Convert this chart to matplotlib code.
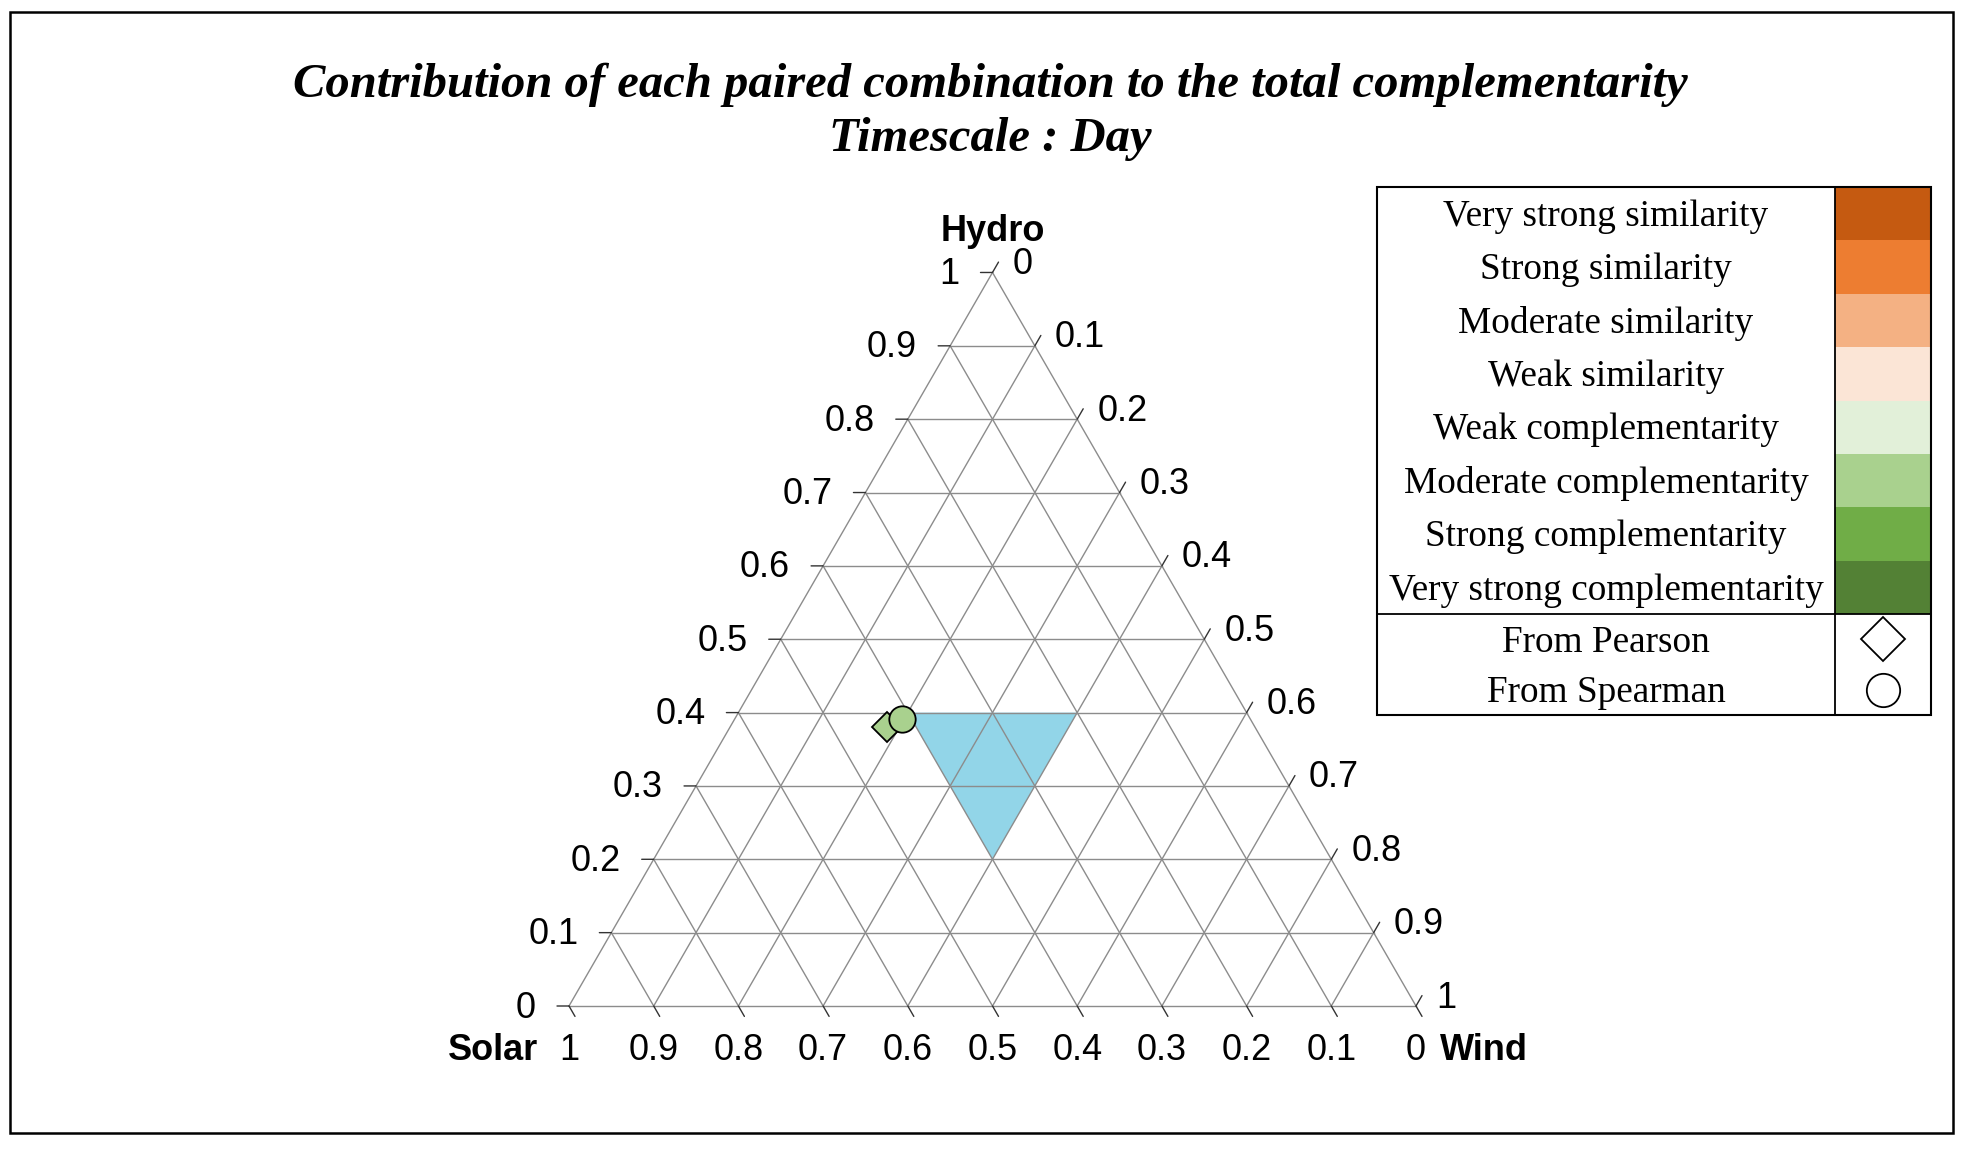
import numpy as np
import matplotlib
matplotlib.use("Agg")
import matplotlib.pyplot as plt
from matplotlib.patches import Rectangle, Polygon

# ---------------- data ----------------
title_lines = ["Contribution of each paired combination to the total complementarity",
               "Timescale : Day"]
axis_names = {"bottom": "Solar", "right": "Wind", "top": "Hydro"}
tick_values = [0.0, 0.1, 0.2, 0.3, 0.4, 0.5, 0.6, 0.7, 0.8, 0.9, 1.0]
tick_labels = ["0", "0.1", "0.2", "0.3", "0.4", "0.5", "0.6", "0.7", "0.8", "0.9", "1"]

categories = ["Very strong similarity", "Strong similarity", "Moderate similarity",
              "Weak similarity", "Weak complementarity", "Moderate complementarity",
              "Strong complementarity", "Very strong complementarity"]
category_colors = ["#C55A11", "#ED7D31", "#F4B183", "#FBE5D6",
                   "#E2F0D9", "#A9D18E", "#70AD47", "#538135"]

method_labels = ["From Pearson", "From Spearman"]
method_markers = ["D", "o"]

# points (solar, wind, hydro)
pearson_point = [0.435, 0.185, 0.380]
spearman_point = [0.411, 0.198, 0.391]
point_category = "Moderate complementarity"

# balanced zone (solar, wind, hydro) vertices: each share <= 0.4
zone_solar = [0.4, 0.4, 0.2]
zone_wind = [0.4, 0.2, 0.4]
zone_hydro = [0.2, 0.4, 0.4]
zone_color = "#92D5E8"

# ---------------- helpers ----------------
R3 = np.sqrt(3) / 2


def to_xy(s, w, h):
    s, w, h = np.asarray(s, float), np.asarray(w, float), np.asarray(h, float)
    return w + h / 2.0, h * R3


W, H = 1963, 1172
DPI = 100
fig = plt.figure(figsize=(W / DPI, H / DPI), dpi=DPI)
PX = 72.0 / DPI  # points per pixel

# ternary axes: side = 847 px, left corner at (569, 1006) px from top-left
side = 847.0
x0, y0 = 569.0, 1006.0
xl = (-0.3, 1.3)
yl = (-0.15, 1.0)
left_px = x0 + xl[0] * side
bottom_px_from_top = y0 - yl[0] * side
ax = fig.add_axes([left_px / W, (H - bottom_px_from_top) / H,
                   (xl[1] - xl[0]) * side / W, (yl[1] - yl[0]) * side / H])
ax.set_xlim(*xl)
ax.set_ylim(*yl)
ax.axis("off")

grid_col = "#8C8C8C"
glw = 1.0

# zone polygon
zx, zy = to_xy(zone_solar, zone_wind, zone_hydro)
ax.add_patch(Polygon(np.column_stack([zx, zy]), closed=True, facecolor=zone_color,
                     edgecolor="none", zorder=1))

# grid lines
for v in tick_values:
    xa, ya = to_xy([1 - v, 0], [0, 1 - v], [v, v])
    ax.plot(xa, ya, color=grid_col, lw=glw, zorder=2)
    xa, ya = to_xy([1 - v, 0], [v, v], [0, 1 - v])
    ax.plot(xa, ya, color=grid_col, lw=glw, zorder=2)
    xa, ya = to_xy([v, v], [1 - v, 0], [0, 1 - v])
    ax.plot(xa, ya, color=grid_col, lw=glw, zorder=2)

tick_len = 12  # px
tick_col = "#333333"
tick_fs = 26
lab_font = "Liberation Sans"

for v, lab in zip(tick_values, tick_labels):
    # Hydro (left edge, wind = 0)
    px, py = to_xy(1 - v, 0, v)
    ax.annotate("", xy=(px, py), xytext=(-tick_len * PX, 0), textcoords="offset points",
                arrowprops=dict(arrowstyle="-", color=tick_col, lw=1.0, shrinkA=0, shrinkB=0))
    ax.annotate(lab, xy=(px, py), xytext=(-33 * PX, -2 * PX), textcoords="offset points",
                ha="right", va="center", fontsize=tick_fs, family=lab_font)
    # Wind (right edge, solar = 0)
    px, py = to_xy(0, v, 1 - v)
    ax.annotate("", xy=(px, py), xytext=(0.5 * tick_len * PX, R3 * tick_len * PX),
                textcoords="offset points",
                arrowprops=dict(arrowstyle="-", color=tick_col, lw=1.0, shrinkA=0, shrinkB=0))
    ax.annotate(lab, xy=(px, py), xytext=(20 * PX, 8 * PX), textcoords="offset points",
                ha="left", va="center", fontsize=tick_fs, family=lab_font)
    # Solar (bottom edge, hydro = 0)
    px, py = to_xy(v, 1 - v, 0)
    ax.annotate("", xy=(px, py), xytext=(0.5 * tick_len * PX, -R3 * tick_len * PX),
                textcoords="offset points",
                arrowprops=dict(arrowstyle="-", color=tick_col, lw=1.0, shrinkA=0, shrinkB=0))
    ax.annotate(lab, xy=(px, py), xytext=(0, -45 * PX), textcoords="offset points",
                ha="center", va="center", fontsize=tick_fs, family=lab_font)

# axis names
name_fs = 26
px, py = to_xy(0, 0, 1)
ax.annotate(axis_names["top"], xy=(px, py), xytext=(0, 41 * PX), textcoords="offset points",
            ha="center", va="center", fontsize=name_fs, fontweight="bold", family=lab_font)
px, py = to_xy(1, 0, 0)
ax.annotate(axis_names["bottom"], xy=(px, py), xytext=(-31 * PX, -45 * PX),
            textcoords="offset points", ha="right", va="center", fontsize=name_fs,
            fontweight="bold", family=lab_font)
px, py = to_xy(0, 1, 0)
ax.annotate(axis_names["right"], xy=(px, py), xytext=(24 * PX, -45 * PX),
            textcoords="offset points", ha="left", va="center", fontsize=name_fs,
            fontweight="bold", family=lab_font)

# points
pt_col = category_colors[categories.index(point_category)]
px, py = to_xy(*pearson_point)
ax.plot([px], [py], marker=method_markers[0], ms=14.8, mfc=pt_col, mec="black",
        mew=1.3, ls="none", zorder=5)
px, py = to_xy(*spearman_point)
ax.plot([px], [py], marker=method_markers[1], ms=19.0, mfc=pt_col, mec="black",
        mew=1.3, ls="none", zorder=6)

# ---------------- title ----------------
fig.text(990 / W, 1 - 85 / H, title_lines[0], ha="center", va="center",
         fontsize=35, fontweight="bold", fontstyle="italic", family="Liberation Serif")
fig.text(990 / W, 1 - 139 / H, title_lines[1], ha="center", va="center",
         fontsize=35, fontweight="bold", fontstyle="italic", family="Liberation Serif")

# ---------------- legend ----------------
L, T, R, B = 1377, 187, 1931, 715
lax = fig.add_axes([L / W, (H - B) / H, (R - L) / W, (B - T) / H])
lw_, lh_ = R - L, B - T
lax.set_xlim(0, lw_)
lax.set_ylim(lh_, 0)
lax.axis("off")
col_x = 1835 - L
row_h = (614 - T) / len(categories)
for i, (cat, col) in enumerate(zip(categories, category_colors)):
    y = i * row_h
    lax.add_patch(Rectangle((col_x, y), lw_ - col_x, row_h, facecolor=col, edgecolor="none"))
    lax.text(col_x / 2, y + row_h / 2 + 3, cat, ha="center", va="center", fontsize=26.8,
             family="Liberation Serif")
div_y = len(categories) * row_h
mrow_h = (lh_ - div_y) / len(method_labels)
msizes = [22.5, 24.0]
for j, (lab, mk) in enumerate(zip(method_labels, method_markers)):
    y = div_y + (j + 0.5) * mrow_h
    lax.text(col_x / 2, y + 3, lab, ha="center", va="center", fontsize=26.8,
             family="Liberation Serif")
    lax.plot([(col_x + lw_) / 2], [y], marker=mk, ms=msizes[j], mfc="white", mec="black",
             mew=1.3, ls="none")
lax.plot([col_x, col_x], [0, lh_], color="black", lw=1.3)
lax.plot([0, lw_], [div_y, div_y], color="black", lw=1.3)
lax.add_patch(Rectangle((0, 0), lw_, lh_, facecolor="none", edgecolor="black", lw=1.5,
                        clip_on=False))

# outer frame
fig.add_artist(Rectangle((10 / W, 1 - 1133 / H), (1953 - 10) / W, (1133 - 12) / H,
                         transform=fig.transFigure, facecolor="none", edgecolor="black",
                         lw=1.8))

fig.savefig("out.png", dpi=DPI)
